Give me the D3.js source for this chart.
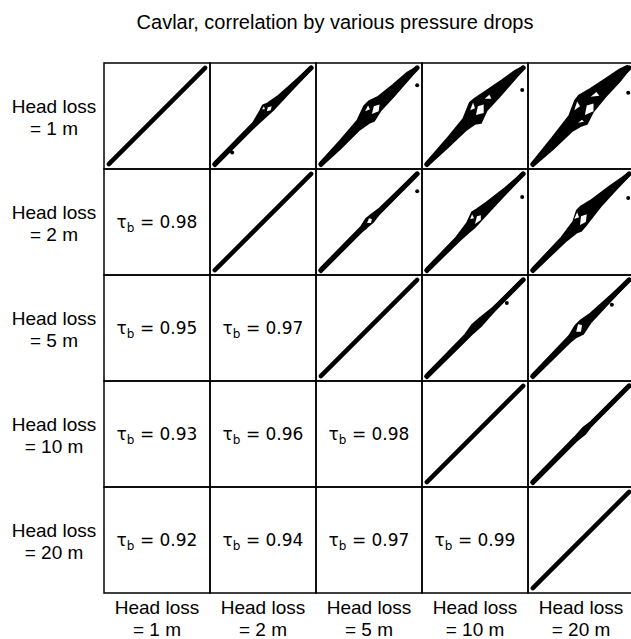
<!DOCTYPE html>
<html><head><meta charset="utf-8">
<script src="https://cdn.jsdelivr.net/npm/d3@7/dist/d3.min.js"></script>
<style>body{margin:0;background:#fff}svg{display:block}</style>
</head><body>
<svg id="chart" width="631" height="639"></svg>
<script>
// ---- data ----
const title = "Cavlar, correlation by various pressure drops";
const headLosses = [1, 2, 5, 10, 20];
// Kendall tau-b for the lower triangle
const tauRows = [1, 2, 2, 3, 3, 3, 4, 4, 4, 4];
const tauCols = [0, 0, 1, 0, 1, 2, 0, 1, 2, 3];
const tauValues = [0.98, 0.95, 0.97, 0.93, 0.96, 0.98, 0.92, 0.94, 0.97, 0.99];
// diagonal panels: identical variables (normalized 0..1)
const diagonalLine = [[0, 0], [1, 1]];
// upper-triangle scatter clouds (normalized):
// upper edge, lower edge, white gaps inside the cloud, isolated points
const upper_0_1 = [[0, 0.02], [0.4, 0.43], [0.47, 0.55], [0.5, 0.61], [0.55, 0.63], [0.65, 0.7], [0.8, 0.83], [1, 1.01]];
const lower_0_1 = [[0, -0.02], [0.4, 0.38], [0.5, 0.47], [0.6, 0.56], [0.75, 0.72], [0.9, 0.88], [1, 0.99]];
const gaps_0_1 = [[[0.54, 0.55], [0.55, 0.59], [0.59, 0.6], [0.58, 0.56]], [[0.49, 0.57], [0.51, 0.6], [0.52, 0.57]]];
const points_0_1 = [[0.18, 0.12]];

const upper_0_2 = [[0, 0.02], [0.2, 0.24], [0.38, 0.45], [0.45, 0.6], [0.5, 0.65], [0.6, 0.7], [0.75, 0.82], [0.9, 0.95], [1, 1.01]];
const lower_0_2 = [[0, -0.02], [0.2, 0.16], [0.4, 0.36], [0.5, 0.43], [0.55, 0.45], [0.62, 0.56], [0.75, 0.7], [0.9, 0.87], [1, 0.99]];
const gaps_0_2 = [[[0.53, 0.52], [0.55, 0.6], [0.61, 0.62], [0.6, 0.55]], [[0.46, 0.55], [0.49, 0.61], [0.51, 0.57]]];
const points_0_2 = [[1.0, 0.82]];

const upper_0_3 = [[0, 0.02], [0.2, 0.25], [0.38, 0.47], [0.45, 0.64], [0.5, 0.68], [0.62, 0.76], [0.78, 0.87], [0.92, 0.97], [1, 1.01]];
const lower_0_3 = [[0, -0.02], [0.2, 0.16], [0.4, 0.35], [0.5, 0.42], [0.56, 0.43], [0.62, 0.56], [0.75, 0.7], [0.9, 0.87], [1, 0.99]];
const gaps_0_3 = [[[0.51, 0.51], [0.53, 0.6], [0.59, 0.62], [0.59, 0.53]], [[0.45, 0.56], [0.48, 0.64], [0.5, 0.58]],
  [[0.6, 0.68], [0.65, 0.72], [0.67, 0.68]]];
const points_0_3 = [[0.99, 0.77]];

const upper_0_4 = [[0, 0.02], [0.2, 0.27], [0.38, 0.5], [0.44, 0.66], [0.48, 0.71], [0.6, 0.78], [0.75, 0.88], [0.9, 0.98], [0.98, 1.02]];
const lower_0_4 = [[0, -0.02], [0.2, 0.15], [0.4, 0.34], [0.5, 0.4], [0.56, 0.42], [0.62, 0.54], [0.75, 0.7], [0.9, 0.86], [1, 0.99]];
const gaps_0_4 = [[[0.54, 0.51], [0.56, 0.61], [0.63, 0.63], [0.63, 0.55]], [[0.43, 0.56], [0.46, 0.65], [0.49, 0.6]],
  [[0.6, 0.7], [0.66, 0.75], [0.69, 0.71]], [[0.47, 0.43], [0.51, 0.46], [0.53, 0.44]]];
const points_0_4 = [[0.99, 0.74]];

const upper_1_2 = [[0, 0.02], [0.42, 0.45], [0.47, 0.53], [0.53, 0.58], [0.6, 0.63], [0.8, 0.82], [1, 1.01]];
const lower_1_2 = [[0, -0.02], [0.42, 0.4], [0.47, 0.44], [0.54, 0.5], [0.6, 0.58], [1, 0.99]];
const gaps_1_2 = [[[0.48, 0.49], [0.5, 0.54], [0.53, 0.53], [0.52, 0.49]]];
const points_1_2 = [[1.0, 0.82]];

const upper_1_3 = [[0, 0.02], [0.3, 0.33], [0.42, 0.49], [0.47, 0.6], [0.52, 0.63], [0.62, 0.7], [0.8, 0.84], [1, 1.01]];
const lower_1_3 = [[0, -0.02], [0.35, 0.32], [0.44, 0.4], [0.5, 0.45], [0.6, 0.56], [1, 0.99]];
const gaps_1_3 = [[[0.5, 0.48], [0.52, 0.56], [0.56, 0.57], [0.56, 0.52]], [[0.45, 0.53], [0.47, 0.58], [0.49, 0.54]]];
const points_1_3 = [[0.99, 0.76]];

const upper_1_4 = [[0, 0.02], [0.3, 0.34], [0.42, 0.5], [0.46, 0.62], [0.5, 0.66], [0.6, 0.72], [0.8, 0.87], [1, 1.01]];
const lower_1_4 = [[0, -0.02], [0.35, 0.31], [0.45, 0.39], [0.5, 0.41], [0.56, 0.48], [0.7, 0.66], [1, 0.99]];
const gaps_1_4 = [[[0.49, 0.47], [0.5, 0.56], [0.56, 0.58], [0.55, 0.5]], [[0.43, 0.53], [0.46, 0.6], [0.48, 0.55]]];
const points_1_4 = [[0.99, 0.75]];

const upper_2_3 = [[0, 0.02], [0.4, 0.43], [0.47, 0.53], [0.55, 0.6], [0.7, 0.72], [1, 1.01]];
const lower_2_3 = [[0, -0.02], [0.4, 0.37], [0.48, 0.45], [0.57, 0.53], [0.7, 0.68], [1, 0.99]];
const gaps_2_3 = [];
const points_2_3 = [[0.83, 0.76]];

const upper_2_4 = [[0, 0.02], [0.38, 0.42], [0.44, 0.52], [0.5, 0.58], [0.6, 0.65], [0.8, 0.83], [1, 1.01]];
const lower_2_4 = [[0, -0.02], [0.38, 0.35], [0.44, 0.4], [0.52, 0.44], [0.6, 0.56], [1, 0.99]];
const gaps_2_4 = [[[0.45, 0.46], [0.47, 0.54], [0.51, 0.53], [0.5, 0.46]]];
const points_2_4 = [[0.82, 0.74]];

const upper_3_4 = [[0, 0.02], [0.44, 0.47], [0.52, 0.56], [0.6, 0.62], [1, 1.01]];
const lower_3_4 = [[0, -0.02], [0.44, 0.42], [0.54, 0.5], [0.6, 0.58], [1, 0.99]];
const gaps_3_4 = [];
const points_3_4 = [];

const cloudUpper = {"0_1": upper_0_1, "0_2": upper_0_2, "0_3": upper_0_3, "0_4": upper_0_4, "1_2": upper_1_2,
  "1_3": upper_1_3, "1_4": upper_1_4, "2_3": upper_2_3, "2_4": upper_2_4, "3_4": upper_3_4};
const cloudLower = {"0_1": lower_0_1, "0_2": lower_0_2, "0_3": lower_0_3, "0_4": lower_0_4, "1_2": lower_1_2,
  "1_3": lower_1_3, "1_4": lower_1_4, "2_3": lower_2_3, "2_4": lower_2_4, "3_4": lower_3_4};
const cloudGaps = {"0_1": gaps_0_1, "0_2": gaps_0_2, "0_3": gaps_0_3, "0_4": gaps_0_4, "1_2": gaps_1_2,
  "1_3": gaps_1_3, "1_4": gaps_1_4, "2_3": gaps_2_3, "2_4": gaps_2_4, "3_4": gaps_3_4};
const cloudPoints = {"0_1": points_0_1, "0_2": points_0_2, "0_3": points_0_3, "0_4": points_0_4, "1_2": points_1_2,
  "1_3": points_1_3, "1_4": points_1_4, "2_3": points_2_3, "2_4": points_2_4, "3_4": points_3_4};

// ---- layout ----
const gridLeft = 104, gridTop = 63, cell = 106;
const svg = d3.select("#chart");
const n = headLosses.length;
const band = d3.scaleBand().domain(d3.range(n)).range([0, cell * n]).padding(0);
const labelFont = "Liberation Sans, Arial, sans-serif";

svg.append("text").attr("x", 335).attr("y", 29).attr("text-anchor", "middle")
  .attr("font-family", labelFont).attr("font-size", 20).attr("fill", "#000")
  .text(title);

const g = svg.append("g").attr("transform", `translate(${gridLeft},${gridTop})`);

for (let r = 0; r < n; r++) {
  for (let c = 0; c < n; c++) {
    const px = band(c), py = band(r);
    const x = d3.scaleLinear().domain([-0.05, 1.05]).range([px, px + cell]);
    const y = d3.scaleLinear().domain([-0.05, 1.05]).range([py + cell, py]);
    const line = d3.line().x(d => x(d[0])).y(d => y(d[1]));
    const pg = g.append("g");
    if (r === c) {
      pg.append("path").datum(diagonalLine).attr("d", line).attr("fill", "none")
        .attr("stroke", "#000").attr("stroke-width", 4.5).attr("stroke-linecap", "round");
    } else if (c > r) {
      const key = r + "_" + c;
      pg.append("path").datum(diagonalLine).attr("d", line).attr("fill", "none")
        .attr("stroke", "#000").attr("stroke-width", 5).attr("stroke-linecap", "round");
      const poly = cloudUpper[key].concat(cloudLower[key].slice().reverse());
      pg.append("path").datum(poly).attr("d", d => line(d) + "Z")
        .attr("fill", "#000").attr("stroke", "#000").attr("stroke-width", 2.2)
        .attr("stroke-linejoin", "round");
      pg.selectAll("path.gap").data(cloudGaps[key]).enter().append("path").attr("class", "gap")
        .attr("d", d => line(d) + "Z").attr("fill", "#fff");
      pg.selectAll("circle.o").data(cloudPoints[key]).enter().append("circle")
        .attr("cx", d => x(d[0])).attr("cy", d => y(d[1])).attr("r", 2).attr("fill", "#000");
    }
    g.append("rect").attr("x", px).attr("y", py).attr("width", cell).attr("height", cell)
      .attr("fill", "none").attr("stroke", "#000").attr("stroke-width", 1.5);
  }
}

// tau labels
tauValues.forEach((v, i) => {
  const cx = band(tauCols[i]) + cell / 2, cy = band(tauRows[i]) + cell / 2;
  const t = g.append("text").attr("x", cx).attr("y", cy + 6).attr("text-anchor", "middle")
    .attr("font-family", "DejaVu Sans, sans-serif").attr("font-size", 17).attr("fill", "#000");
  t.append("tspan").text("τ");
  t.append("tspan").attr("font-size", 12).attr("dy", 4).text("b");
  t.append("tspan").attr("dy", -4).text(" = " + v.toFixed(2));
});

// row labels
headLosses.forEach((h, i) => {
  const cy = gridTop + band(i) + cell / 2;
  const t = svg.append("text").attr("text-anchor", "middle")
    .attr("font-family", labelFont).attr("font-size", 19).attr("fill", "#000");
  t.append("tspan").attr("x", 54).attr("y", cy - 3).text("Head loss");
  t.append("tspan").attr("x", 54).attr("y", cy + 19).text("= " + h + " m");
});
// column labels
headLosses.forEach((h, i) => {
  const cx = gridLeft + band(i) + cell / 2;
  const t = svg.append("text").attr("text-anchor", "middle")
    .attr("font-family", labelFont).attr("font-size", 19).attr("fill", "#000");
  t.append("tspan").attr("x", cx).attr("y", 614).text("Head loss");
  t.append("tspan").attr("x", cx).attr("y", 636).text("= " + h + " m");
});
</script>
</body></html>
